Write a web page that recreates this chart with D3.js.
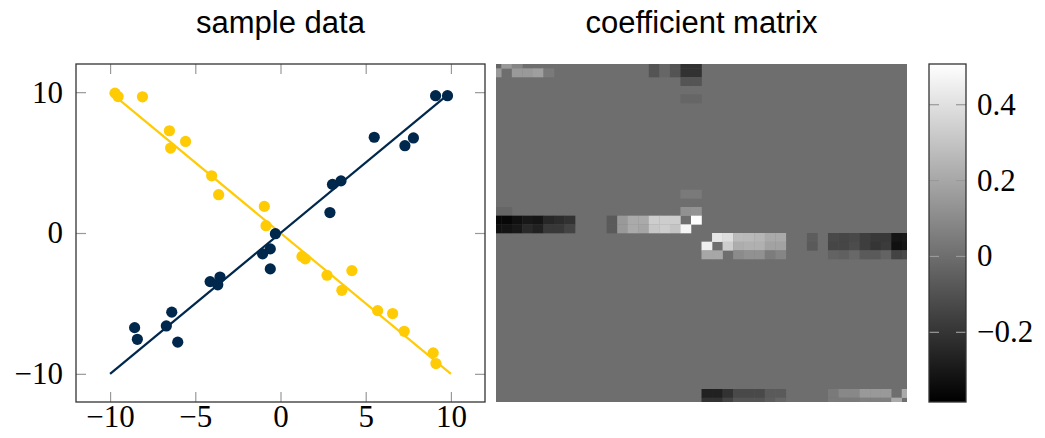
<!DOCTYPE html>
<html>
<head>
<meta charset="utf-8">
<script src="https://cdn.jsdelivr.net/npm/d3@7"></script>
<style>
body { margin: 0; background: #fff; }
.tick text { font-family: "Liberation Serif", "Times New Roman", serif; font-size: 31px; fill: #000; }
.tick line { stroke: #999; stroke-width: 1.2; }
.title { font-family: "Liberation Sans", Arial, sans-serif; font-size: 31px; fill: #000; }
</style>
</head>
<body>
<svg id="chart" width="1045" height="438"></svg>
<script>
// sample data, two clusters
var blueX = [-8.56, -8.4, -6.7, -6.38, -6.03, -4.13, -3.68, -3.55, -1.05, -0.6, -0.6, -0.3,
             2.9, 3.05, 3.55, 5.5, 7.3, 7.8, 9.1, 9.8];
var blueY = [-6.72, -7.55, -6.6, -5.62, -7.75, -3.45, -3.68, -3.13, -1.48, -1.13, -2.55, -0.05,
             1.45, 3.45, 3.7, 6.8, 6.2, 6.75, 9.75, 9.75];
var yellowX = [-9.71, -9.53, -8.1, -6.52, -6.45, -5.57, -4.04, -3.63, -0.95, -0.85,
               1.26, 1.45, 2.73, 3.6, 4.19, 5.7, 6.58, 7.26, 8.96, 9.12];
var yellowY = [9.93, 9.69, 9.67, 7.26, 6.03, 6.5, 4.06, 2.72, 1.89, 0.52,
               -1.66, -1.84, -3.0, -4.07, -2.67, -5.51, -5.72, -6.98, -8.51, -9.27];
var fitX = [-10, 10];
var blueFitY = [-10, 10];
var yellowFitY = [10, -10];
var xTicks = [-10, -5, 0, 5, 10];
var yTicks = [-10, 0, 10];

// coefficient matrix (40 x 40), non zero entries as [row, col, value]
var nSamples = 40;
var coefCells = [
  [0,0,-0.03],[0,1,0.15],[0,2,0.08],[0,15,-0.09],[0,16,-0.03],[0,17,-0.09],[0,18,-0.21],[0,19,-0.21],
  [1,0,0.15],[1,2,0.15],[1,3,0.15],[1,4,0.17],[1,5,0.04],[1,15,-0.09],[1,16,-0.03],[1,17,-0.09],[1,18,-0.21],[1,19,-0.21],
  [2,18,-0.09],[2,19,-0.09],
  [4,18,-0.03],[4,19,-0.03],
  [15,18,0.04],[15,19,0.04],
  [17,0,-0.03],[17,1,-0.03],[17,18,0.12],[17,19,0.13],
  [18,0,-0.36],[18,1,-0.36],[18,2,-0.33],[18,3,-0.3],[18,4,-0.31],[18,5,-0.25],[18,6,-0.23],[18,7,-0.21],
  [18,11,-0.07],[18,12,0.15],[18,13,0.21],[18,14,0.21],[18,15,0.33],[18,16,0.33],[18,17,0.33],[18,19,0.5],
  [19,0,-0.33],[19,1,-0.32],[19,2,-0.3],[19,3,-0.24],[19,4,-0.27],[19,5,-0.19],[19,6,-0.19],[19,7,-0.15],
  [19,11,-0.07],[19,12,0.15],[19,13,0.21],[19,14,0.19],[19,15,0.31],[19,16,0.33],[19,17,0.3],[19,18,0.47],
  [20,21,0.42],[20,22,0.39],[20,23,0.27],[20,24,0.26],[20,25,0.25],[20,26,0.21],[20,27,0.21],[20,30,-0.06],
  [20,32,-0.13],[20,33,-0.14],[20,34,-0.13],[20,35,-0.17],[20,36,-0.19],[20,37,-0.19],[20,38,-0.31],[20,39,-0.3],
  [21,20,0.45],[21,22,0.33],[21,23,0.22],[21,24,0.23],[21,25,0.23],[21,26,0.18],[21,27,0.18],[21,30,-0.07],
  [21,32,-0.14],[21,33,-0.14],[21,34,-0.12],[21,35,-0.17],[21,36,-0.2],[21,37,-0.18],[21,38,-0.33],[21,39,-0.31],
  [22,20,0.2],[22,21,0.2],[22,23,0.1],[22,24,0.12],[22,25,0.12],[22,26,0.05],[22,27,0.08],
  [22,32,-0.04],[22,33,-0.05],[22,34,-0.02],[22,35,-0.07],[22,36,-0.07],[22,37,-0.04],[22,38,-0.15],[22,39,-0.13],
  [38,20,-0.27],[38,21,-0.27],[38,22,-0.21],[38,23,-0.13],[38,24,-0.13],[38,25,-0.13],[38,26,-0.07],[38,27,-0.07],
  [38,32,0.04],[38,33,0.09],[38,34,0.09],[38,35,0.15],[38,36,0.15],[38,37,0.15],[38,39,0.21],
  [39,20,-0.21],[39,21,-0.21],[39,22,-0.15],[39,23,-0.09],[39,24,-0.09],[39,25,-0.09],[39,26,-0.06],[39,27,-0.03],
  [39,32,0.04],[39,33,0.04],[39,34,0.04],[39,35,0.06],[39,36,0.06],[39,37,0.06],[39,38,0.21]
];
var cbarRange = [-0.385, 0.506];
var cbarTicks = [-0.2, 0, 0.2, 0.4];

var blue = "#00274c", maize = "#ffcb05";

var svg = d3.select("#chart");
var minus = function(d) { return d < 0 ? "\u2212" + Math.abs(d) : String(d); };

// ---- left panel: sample data
var x = d3.scaleLinear().domain([-12, 12]).range([76, 485]);
var y = d3.scaleLinear().domain([-12, 12]).range([402, 64]);

svg.append("text").attr("class", "title")
    .attr("x", (76 + 485) / 2).attr("y", 33)
    .attr("text-anchor", "middle").text("sample data");

svg.append("g").attr("transform", "translate(0,402)")
    .call(d3.axisBottom(x).tickValues(xTicks).tickSize(-10).tickPadding(3).tickFormat(minus));
svg.append("g").attr("transform", "translate(0,64)")
    .call(d3.axisTop(x).tickValues(xTicks).tickSize(-10).tickFormat(""));
svg.append("g").attr("transform", "translate(76,0)")
    .call(d3.axisLeft(y).tickValues(yTicks).tickSize(-10).tickPadding(13).tickFormat(minus));
svg.append("g").attr("transform", "translate(485,0)")
    .call(d3.axisRight(y).tickValues(yTicks).tickSize(-10).tickFormat(""));
svg.selectAll(".domain").remove();

svg.append("rect")
    .attr("x", 76).attr("y", 64).attr("width", 485 - 76).attr("height", 402 - 64)
    .attr("fill", "none").attr("stroke", "#333").attr("stroke-width", 1.3);

var line = d3.line().x(function(d) { return x(d[0]); }).y(function(d) { return y(d[1]); });

svg.append("path").datum(d3.zip(fitX, yellowFitY))
    .attr("d", line).attr("fill", "none").attr("stroke", maize).attr("stroke-width", 2.2);
svg.append("path").datum(d3.zip(fitX, blueFitY))
    .attr("d", line).attr("fill", "none").attr("stroke", blue).attr("stroke-width", 2.2);

svg.append("g").selectAll("circle")
    .data(d3.zip(yellowX, yellowY))
    .enter().append("circle")
    .attr("cx", function(d) { return x(d[0]); })
    .attr("cy", function(d) { return y(d[1]); })
    .attr("r", 5.6).attr("fill", maize);

svg.append("g").selectAll("circle")
    .data(d3.zip(blueX, blueY))
    .enter().append("circle")
    .attr("cx", function(d) { return x(d[0]); })
    .attr("cy", function(d) { return y(d[1]); })
    .attr("r", 5.6).attr("fill", blue);

// ---- right panel: coefficient matrix
var hx = d3.scaleLinear().domain([0, nSamples - 1]).range([496, 907]);
var hy = d3.scaleLinear().domain([0, nSamples - 1]).range([64, 402]);
var color = d3.scaleLinear().domain(cbarRange).range(["#000", "#fff"]).clamp(true);

svg.append("text").attr("class", "title")
    .attr("x", (496 + 907) / 2).attr("y", 33)
    .attr("text-anchor", "middle").text("coefficient matrix");

svg.append("clipPath").attr("id", "hclip")
  .append("rect").attr("x", 496).attr("y", 64).attr("width", 907 - 496).attr("height", 402 - 64);

var hm = svg.append("g").attr("clip-path", "url(#hclip)");
hm.append("rect")
    .attr("x", 496).attr("y", 64).attr("width", 907 - 496).attr("height", 402 - 64)
    .attr("fill", color(0));

var cw = hx(1) - hx(0), ch = hy(1) - hy(0);
hm.selectAll(".cell")
    .data(coefCells)
    .enter().append("rect")
    .attr("class", "cell")
    .attr("x", function(d) { return hx(d[1] - 0.5); })
    .attr("y", function(d) { return hy(d[0] - 0.5); })
    .attr("width", cw + 0.3)
    .attr("height", ch + 0.3)
    .attr("fill", function(d) { return color(d[2]); });

// ---- colorbar
var cb = { x0: 929, x1: 966 };
var cy = d3.scaleLinear().domain(cbarRange).range([402, 64]);

var grad = svg.append("defs").append("linearGradient")
    .attr("id", "cbar").attr("x1", 0).attr("y1", 1).attr("x2", 0).attr("y2", 0);
grad.append("stop").attr("offset", 0).attr("stop-color", color(cbarRange[0]));
grad.append("stop").attr("offset", 1).attr("stop-color", color(cbarRange[1]));

svg.append("rect")
    .attr("x", cb.x0).attr("y", 64).attr("width", cb.x1 - cb.x0).attr("height", 402 - 64)
    .attr("fill", "url(#cbar)");

svg.append("g").attr("transform", "translate(" + cb.x0 + ",0)")
    .call(d3.axisLeft(cy).tickValues(cbarTicks).tickSize(-10).tickFormat(""));
svg.append("g").attr("transform", "translate(" + cb.x1 + ",0)")
    .call(d3.axisRight(cy).tickValues(cbarTicks).tickSize(-10).tickPadding(11).tickFormat(minus));
svg.selectAll(".domain").remove();

svg.append("rect")
    .attr("x", cb.x0).attr("y", 64).attr("width", cb.x1 - cb.x0).attr("height", 402 - 64)
    .attr("fill", "none").attr("stroke", "#333").attr("stroke-width", 1.3);
</script>
</body>
</html>
